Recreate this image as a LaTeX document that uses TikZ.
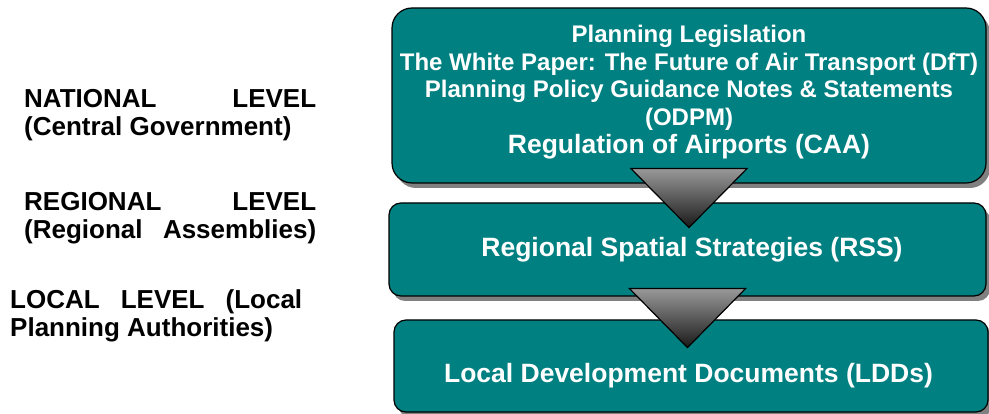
\documentclass[tikz,border=0pt]{standalone}
\usepackage{fontspec}
\setmainfont{Liberation Sans}
\usetikzlibrary{positioning,calc,shadows}
\definecolor{planTeal}{RGB}{0,128,128}
\definecolor{shadowGray}{RGB}{128,128,128}
\tikzset{
  levelbox/.style={draw=black, line width=1.2pt, fill=planTeal, rounded corners=#1,
    inner sep=0pt, drop shadow={shadow xshift=4pt, shadow yshift=-5pt, fill=shadowGray, opacity=1}},
  boxtext/.style={text=white, font=\bfseries\fontsize{26.5}{28}\selectfont, inner sep=0pt, align=center},
  lvltext/.style={text=black, font=\bfseries\fontsize{26}{28}\selectfont, inner sep=0pt, align=left, anchor=west},
  flowtri/.style={draw=black, line width=1.2pt, line join=miter, top color=black!40, bottom color=black!90}
}

\begin{document}
\begin{tikzpicture}[x=1pt, y=-1pt]
    \useasboundingbox (0,0) rectangle (989,414);
    % --- level boxes (teal, grey drop shadow) ---
    \node[levelbox=20pt, minimum width=594pt, minimum height=175pt] (natbox) at (689,95.5) {};
    \node[levelbox=12pt, minimum width=597pt, minimum height=93pt] (regbox) at (687.5,249.5) {};
    \node[levelbox=12pt, minimum width=594pt, minimum height=92pt] (locbox) at (691,366) {};
    % --- box texts ---
    \node[boxtext, font=\bfseries\fontsize{24}{27.5}\selectfont] (nattext) at ([yshift=3.5pt]natbox.center)
      {Planning Legislation\\The White Paper: The Future of Air Transport (DfT)\\
       Planning Policy Guidance Notes \& Statements\\(ODPM)\\[0.5pt]
       {\fontsize{26.5}{28}\selectfont Regulation of Airports (CAA)}};
    \node[boxtext, anchor=base] (regtext) at ($(regbox.center)+(4.5,7.5)$) {Regional Spatial Strategies (RSS)};
    \node[boxtext, anchor=base] (loctext) at ($(locbox.center)+(-2.5,16)$) {Local Development Documents (LDDs)};
    % --- level labels on the left ---
    \node[lvltext] (natlbl) at (24,115.5) {\makebox[292pt][s]{NATIONAL LEVEL}\\(Central Government)};
    \node[lvltext] (reglbl) at (24,218.5) {\makebox[292pt][s]{REGIONAL LEVEL}\\\makebox[292pt][s]{(Regional Assemblies)}};
    \node[lvltext] (loclbl) at (10,315.5) {\makebox[292pt][s]{LOCAL LEVEL (Local}\\Planning Authorities)};
    % --- flow triangles from one level down to the next ---
    \coordinate (natdown) at ([yshift=15pt]natbox.south);
    \coordinate (regdown) at ([yshift=8pt]regbox.south);
    \foreach \c in {natdown,regdown}
      \draw[flowtri] ($(\c)+(-58,0)$) -- ($(\c)+(58,0)$) -- ($(\c)+(0,59)$) -- cycle;
\end{tikzpicture}
\end{document}
